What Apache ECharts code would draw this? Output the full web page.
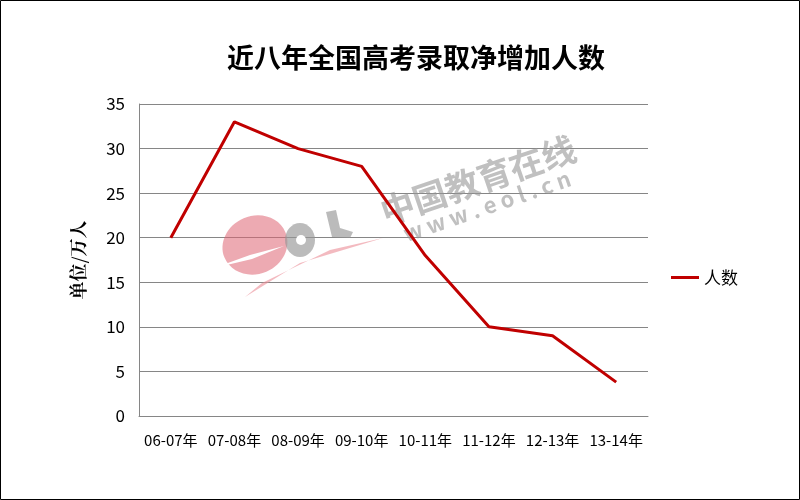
<!DOCTYPE html>
<html><head><meta charset="utf-8">
<script src="https://cdn.jsdelivr.net/npm/echarts@6/dist/echarts.min.js"></script>
<style>html,body{margin:0;padding:0;background:#fff}#c{width:800px;height:500px}</style>
</head><body><div id="c"></div>
<script>
const categories = ['06-07年','07-08年','08-09年','09-10年','10-11年','11-12年','12-13年','13-14年'];
const values = [20, 33, 30, 28, 18, 10, 9, 3.8];
const seriesName = '人数';
const titleText = '近八年全国高考录取净增加人数';
const yAxisName = '单位/万人';

const chart = echarts.init(document.getElementById('c'));
const font = '"Noto Sans CJK SC", "Noto Sans", sans-serif';
chart.setOption({
  animation: false,
  backgroundColor: '#fff',
  textStyle: { fontFamily: font },
  title: {
    text: titleText, left: 411, top: 39, textAlign: 'center',
    textStyle: { fontSize: 27, fontWeight: 'bold', color: '#000', fontFamily: font }
  },
  legend: {
    left: 666, top: 264, icon: 'rect', itemWidth: 28, itemHeight: 3, itemGap: 6,
    textStyle: { fontSize: 17, color: '#000', fontFamily: font },
    data: [seriesName]
  },
  grid: { left: 139, right: 152, top: 104, bottom: 84, containLabel: false },
  xAxis: {
    type: 'category', data: categories, boundaryGap: true,
    axisLine: { show: true, lineStyle: { color: '#868686', width: 1 } },
    axisTick: { show: false },
    axisLabel: { fontSize: 15, color: '#000', margin: 17, interval: 0 }
  },
  yAxis: {
    type: 'value', min: 0, max: 35, interval: 5,
    name: yAxisName, nameLocation: 'middle', nameGap: 52, nameRotate: 90,
    nameTextStyle: { fontSize: 18, color: '#000', fontWeight: 'bold', fontFamily: '"Noto Serif CJK SC", "Noto Sans CJK SC", serif' },
    axisLine: { show: true, lineStyle: { color: '#868686', width: 1 } },
    axisTick: { show: false },
    axisLabel: { fontSize: 17, color: '#000', margin: 14 },
    splitLine: { show: true, lineStyle: { color: '#868686', width: 1 } }
  },
  series: [{
    name: seriesName, type: 'line', data: values, z: 10,
    symbol: 'none', lineStyle: { color: '#C00000', width: 3 },
    itemStyle: { color: '#C00000' }
  }],
  graphic: [
    { type: 'rect', z: 100, shape: { x: 0.5, y: 0.5, width: 799, height: 499 },
      style: { fill: 'none', stroke: '#000', lineWidth: 1 } },
    { type: 'ellipse', z: 1, shape: { cx: 255, cy: 245, rx: 33, ry: 29 }, rotation: 0.4, originX: 255, originY: 245,
      style: { fill: 'rgba(222,100,115,0.55)' } },
    { type: 'polygon', z: 2, shape: { points: [[214,268],[250,255],[284,246],[252,259]] },
      style: { fill: '#fff' } },
    { type: 'polygon', z: 2, shape: { points: [[245,297],[300,263],[383,238],[330,250],[262,283]] },
      style: { fill: 'rgba(235,140,150,0.6)' } },
    { type: 'ellipse', z: 2, shape: { cx: 300, cy: 240, rx: 15, ry: 17 }, style: { fill: 'rgba(150,150,150,0.65)' } },
    { type: 'circle', z: 3, shape: { cx: 301, cy: 240, r: 5 }, style: { fill: '#fff' } },
    { type: 'polygon', z: 2, shape: { points: [[326,212],[336,210],[340,228],[353,232],[350,238],[332,237]] },
      style: { fill: 'rgba(150,150,150,0.65)' } },
    { type: 'text', z: 2, x: 478, y: 180, rotation: 0.33,
      style: { text: '中国教育在线', fontSize: 34, fontWeight: 'bold', fill: 'rgba(150,150,150,0.6)', align: 'center', verticalAlign: 'middle', fontFamily: font } },
    { type: 'text', z: 2, x: 487, y: 206, rotation: 0.33,
      style: { text: 'w w w . e o l . c n', fontSize: 22, fontWeight: 'bold', fill: 'rgba(150,150,150,0.6)', align: 'center', verticalAlign: 'middle', fontFamily: font } }
  ]
});
</script></body></html>
